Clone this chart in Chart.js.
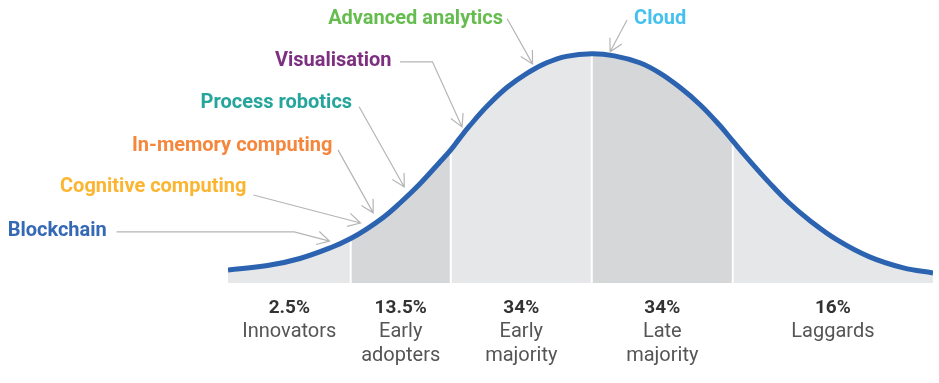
<!DOCTYPE html>
<html>
<head>
<meta charset="utf-8">
<script src="https://cdn.jsdelivr.net/npm/chart.js@4"></script>
<style>
  html, body { margin: 0; padding: 0; overflow: hidden; background: #fff; }
  canvas { display: block; }
</style>
</head>
<body>
<canvas id="adoption" width="939" height="383"></canvas>
<script>
// adoption curve: x in standard deviations from the mean, y as % of peak height
var curveX = [-2.58, -2.30, -2.07, -1.84, -1.71, -1.60, -1.47, -1.36, -1.22, -1.08, -1.00, -0.94, -0.87, -0.74, -0.60, -0.46, -0.32, -0.18, 0,
              0.16, 0.34, 0.48, 0.62, 0.77, 0.91, 1.00, 1.12, 1.26, 1.40, 1.55, 1.74, 1.97, 2.21, 2.42];
var curveY = [5.7, 7.6, 10.7, 15.7, 19.4, 23.4, 29.0, 34.9, 43.2, 52.6, 58.1, 62.9, 68.3, 77.3, 85.4, 91.5, 96.1, 98.9, 100,
              99.1, 96.1, 91.7, 85.6, 77.7, 68.6, 62.0, 53.3, 43.7, 34.9, 27.1, 18.8, 11.4, 6.6, 4.4];

// segment borders (same units as curveX)
var segmentBounds = [-2.58, -1.71, -1.00, 0, 1.00, 2.42];
var shares = ['2.5%', '13.5%', '34%', '34%', '16%'];
var groups = [['Innovators'], ['Early', 'adopters'], ['Early', 'majority'], ['Late', 'majority'], ['Laggards']];

var technologies = ['Blockchain', 'Cognitive computing', 'In-memory computing', 'Process robotics',
                    'Visualisation', 'Advanced analytics', 'Cloud'];

// where each callout sits (label anchor + leader line, in chart units) and its colour
var calloutLayout = [
  { color: '#3569b5', at: [-3.44, 22.7], align: 'right', path: [[-3.37, 22.3], [-2.11, 22.3], [-1.86, 18.3]] },
  { color: '#fbb530', at: [-2.45, 41.9], align: 'right', path: [[-2.40, 38.4], [-1.64, 26.2]] },
  { color: '#f5873d', at: [-1.84, 59.8], align: 'right', path: [[-1.80, 58.1], [-1.55, 30.6]] },
  { color: '#25a59b', at: [-1.70, 78.6], align: 'right', path: [[-1.65, 76.9], [-1.33, 41.9]] },
  { color: '#7d2f80', at: [-1.42, 96.9], align: 'right', path: [[-1.36, 96.5], [-1.13, 96.5], [-0.92, 68.1]] },
  { color: '#66bd4f', at: [-0.63, 115.3], align: 'right', path: [[-0.60, 115.3], [-0.42, 95.6]] },
  { color: '#45c1ee', at: [0.30, 115.3], align: 'left', path: [[0.25, 114.8], [0.13, 100.9]] }
];

var curve = curveX.map(function (x, i) { return { x: x, y: curveY[i] }; });
var segCenters = [];
for (var i = 0; i < shares.length; i++) segCenters.push((segmentBounds[i] + segmentBounds[i + 1]) / 2);

function segmentIndex(x) {
  for (var i = 0; i < shares.length; i++) if (x < segmentBounds[i + 1]) return i;
  return shares.length - 1;
}

var datasets = [];
// blue line on top
datasets.push({
  data: curve, borderColor: '#2b63b1', borderWidth: 5, fill: false, order: 0,
  pointRadius: 0, tension: 0.4
});
// grey area under the curve, alternating shades per group
datasets.push({
  data: curve, borderWidth: 0, borderColor: 'rgba(0,0,0,0)', fill: 'start', order: 2,
  backgroundColor: '#e6e7e8', pointRadius: 0, tension: 0.4,
  segment: {
    backgroundColor: function (ctx) {
      var mid = (ctx.p0.parsed.x + ctx.p1.parsed.x) / 2;
      return segmentIndex(mid) % 2 ? '#d6d7d9' : '#e6e7e8';
    }
  }
});
// white dividers between the groups
for (var b = 1; b < segmentBounds.length - 1; b++) {
  var k = curveX.indexOf(segmentBounds[b]);
  datasets.push({
    data: [{ x: segmentBounds[b], y: 0 }, { x: segmentBounds[b], y: curveY[k] }],
    borderColor: '#ffffff', borderWidth: 2, fill: false, order: 1, pointRadius: 0
  });
}

var calloutPlugin = {
  id: 'callouts',
  afterDatasetsDraw: function (chart) {
    var ctx = chart.ctx, sx = chart.scales.x, sy = chart.scales.y;
    ctx.save();
    calloutLayout.forEach(function (c, i) {
      var pts = c.path.map(function (p) { return [sx.getPixelForValue(p[0]), sy.getPixelForValue(p[1])]; });
      ctx.strokeStyle = '#b5b5b5';
      ctx.lineWidth = 1.2;
      ctx.beginPath();
      ctx.moveTo(pts[0][0], pts[0][1]);
      for (var j = 1; j < pts.length; j++) ctx.lineTo(pts[j][0], pts[j][1]);
      // open arrow head
      var tip = pts[pts.length - 1], prev = pts[pts.length - 2];
      var ang = Math.atan2(prev[1] - tip[1], prev[0] - tip[0]);
      var len = 14, spread = 0.5;
      ctx.moveTo(tip[0] + len * Math.cos(ang - spread), tip[1] + len * Math.sin(ang - spread));
      ctx.lineTo(tip[0], tip[1]);
      ctx.lineTo(tip[0] + len * Math.cos(ang + spread), tip[1] + len * Math.sin(ang + spread));
      ctx.stroke();

      ctx.fillStyle = c.color;
      ctx.font = 'bold 20px Roboto';
      ctx.textAlign = c.align;
      ctx.textBaseline = 'middle';
      ctx.fillText(technologies[i], sx.getPixelForValue(c.at[0]), sy.getPixelForValue(c.at[1]));
    });
    ctx.restore();
  }
};

function centerTicks(axis) {
  axis.ticks = segCenters.map(function (v) { return { value: v }; });
}

new Chart(document.getElementById('adoption'), {
  type: 'line',
  data: { datasets: datasets },
  plugins: [calloutPlugin],
  options: {
    responsive: false,
    animation: false,
    layout: { padding: { left: 228, right: 6, top: 8, bottom: 9 } },
    plugins: { legend: { display: false }, tooltip: { enabled: false } },
    scales: {
      x: {
        type: 'linear', position: 'bottom', min: segmentBounds[0], max: segmentBounds[segmentBounds.length - 1],
        grid: { display: false }, border: { display: false },
        afterBuildTicks: centerTicks,
        afterFit: function (axis) { axis.height = 31; },
        ticks: {
          autoSkip: false, maxRotation: 0, padding: 6, color: '#333333',
          font: { family: 'Roboto', size: 19, weight: 'bold' },
          callback: function (v, i) { return shares[i]; }
        }
      },
      x2: {
        type: 'linear', axis: 'x', position: 'bottom', min: segmentBounds[0], max: segmentBounds[segmentBounds.length - 1],
        grid: { display: false }, border: { display: false },
        afterBuildTicks: centerTicks,
        afterFit: function (axis) { axis.height = 60; },
        ticks: {
          autoSkip: false, maxRotation: 0, padding: -2, color: '#555555',
          font: { family: 'Roboto', size: 20, lineHeight: 1.2 },
          callback: function (v, i) { return groups[i]; }
        }
      },
      y: { display: false, min: 0, max: 120 }
    }
  }
});
</script>
</body>
</html>
